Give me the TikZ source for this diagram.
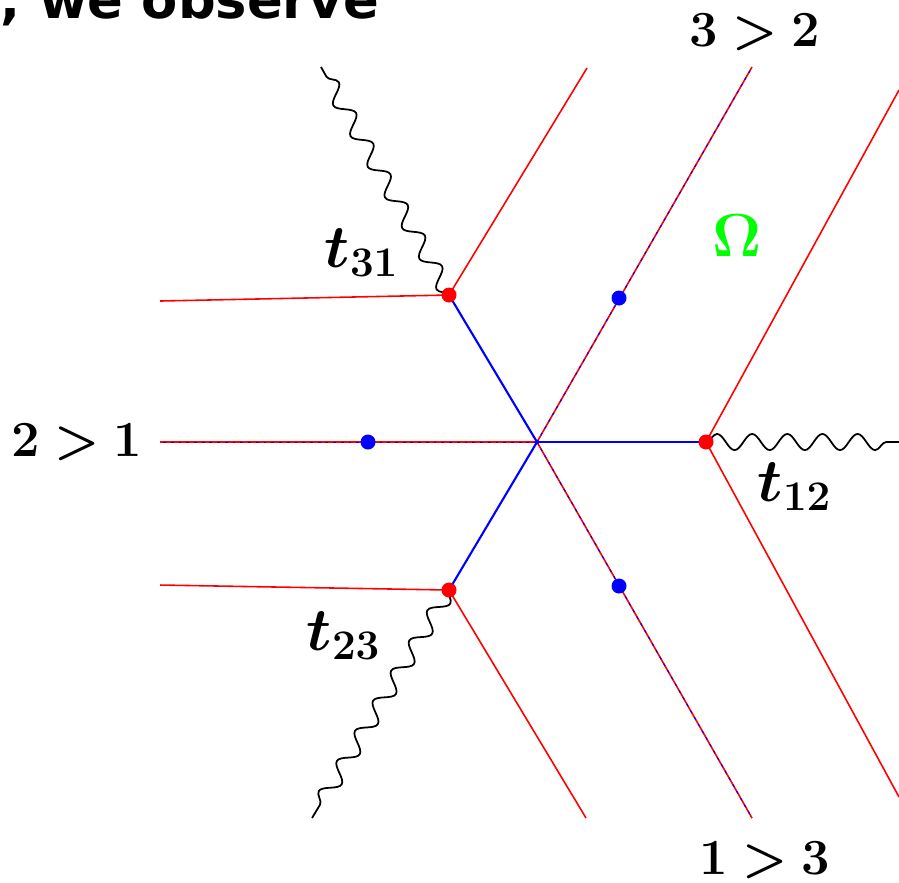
\documentclass[tikz,border=0pt]{standalone}
\usepackage{amsmath, amssymb}
\usepackage[no-math]{fontspec}
\newfontfamily\slidefont{DejaVu Sans}
\DeclareMathSizes{16}{16}{12}{9}
\usetikzlibrary{decorations.pathmorphing}

\begin{document}
\begin{tikzpicture}[
  redline/.style={red, line width=0.45pt},
  blueline/.style={blue, line width=0.6pt},
  mixline/.style={redline, postaction={draw=blue, line width=0.3pt, dash pattern=on 0.8pt off 1.4pt}},
  wave/.style={black, line width=0.5pt, decorate, decoration={snake, amplitude=2.3pt, segment length=10pt}},
  reddot/.style={circle, fill=red, inner sep=0pt, minimum size=0.15cm},
  bluedot/.style={circle, fill=blue, inner sep=0pt, minimum size=0.15cm},
  lbl/.style={font=\fontsize{16}{19}\selectfont},
  rel/.style={font=\fontsize{15}{18}\selectfont},
  omega/.style={font=\fontsize{19}{22}\selectfont, text=green}
]
\useasboundingbox (0,0) rectangle (8.99,-8.82);

\node[anchor=base west, inner sep=0pt, font=\slidefont\fontsize{15}{18}\selectfont\bfseries] (obs) at (0,-0.18) {, we observe};

\coordinate (C) at (5.37,-4.42);
\coordinate (t12) at (7.06,-4.42);
\coordinate (t31) at (4.49,-2.95);
\coordinate (t23) at (4.49,-5.90);
\coordinate (b21) at (3.68,-4.42);
\coordinate (b32) at (6.19,-2.98);
\coordinate (b13) at (6.19,-5.86);

\coordinate (e21) at (1.60,-4.42);
\coordinate (e32) at (7.52,-0.67);
\coordinate (e13) at (7.52,-8.18);
\coordinate (e31l) at (1.60,-3.01);
\coordinate (e31u) at (5.87,-0.68);
\coordinate (e23l) at (1.60,-5.85);
\coordinate (e23d) at (5.86,-8.18);
\coordinate (e12u) at (8.99,-0.90);
\coordinate (e12d) at (8.99,-7.97);
\coordinate (w31) at (3.21,-0.67);
\coordinate (w23) at (3.12,-8.18);
\coordinate (w12) at (8.99,-4.42);

\draw[redline] (t31) -- (e31l);
\draw[redline] (t31) -- (e31u);
\draw[redline] (t23) -- (e23l);
\draw[redline] (t23) -- (e23d);
\draw[redline] (t12) -- (e12u);
\draw[redline] (t12) -- (e12d);

\draw[mixline] (C) -- (e21);
\draw[mixline] (C) -- (e32);
\draw[mixline] (C) -- (e13);

\draw[blueline] (C) -- (t12);
\draw[blueline] (C) -- (t31);
\draw[blueline] (C) -- (t23);

\draw[wave] (t31) -- (w31);
\draw[wave] (t23) -- (w23);
\draw[wave] (t12) -- (w12);

\node[reddot] (d12) at (t12) {};
\node[reddot] (d31) at (t31) {};
\node[reddot] (d23) at (t23) {};
\node[bluedot] (d21) at (b21) {};
\node[bluedot] (d32) at (b32) {};
\node[bluedot] (d13) at (b13) {};

\node[lbl] (l31) at (3.62,-2.53) {$\boldsymbol{t}_{\mathbf{31}}$};
\node[lbl] (l23) at (3.44,-6.36) {$\boldsymbol{t}_{\mathbf{23}}$};
\node[lbl] (l12) at (7.95,-4.87) {$\boldsymbol{t}_{\mathbf{12}}$};
\node[omega] (om) at (7.37,-2.36) {$\mathbf{\Omega}$};
\node[rel] (l32) at (7.55,-0.32) {$\mathbf{3}\boldsymbol{>}\mathbf{2}$};
\node[rel] (l21) at (0.77,-4.42) {$\mathbf{2}\boldsymbol{>}\mathbf{1}$};
\node[rel] (l13) at (7.65,-8.60) {$\mathbf{1}\boldsymbol{>}\mathbf{3}$};
\end{tikzpicture}
\end{document}
